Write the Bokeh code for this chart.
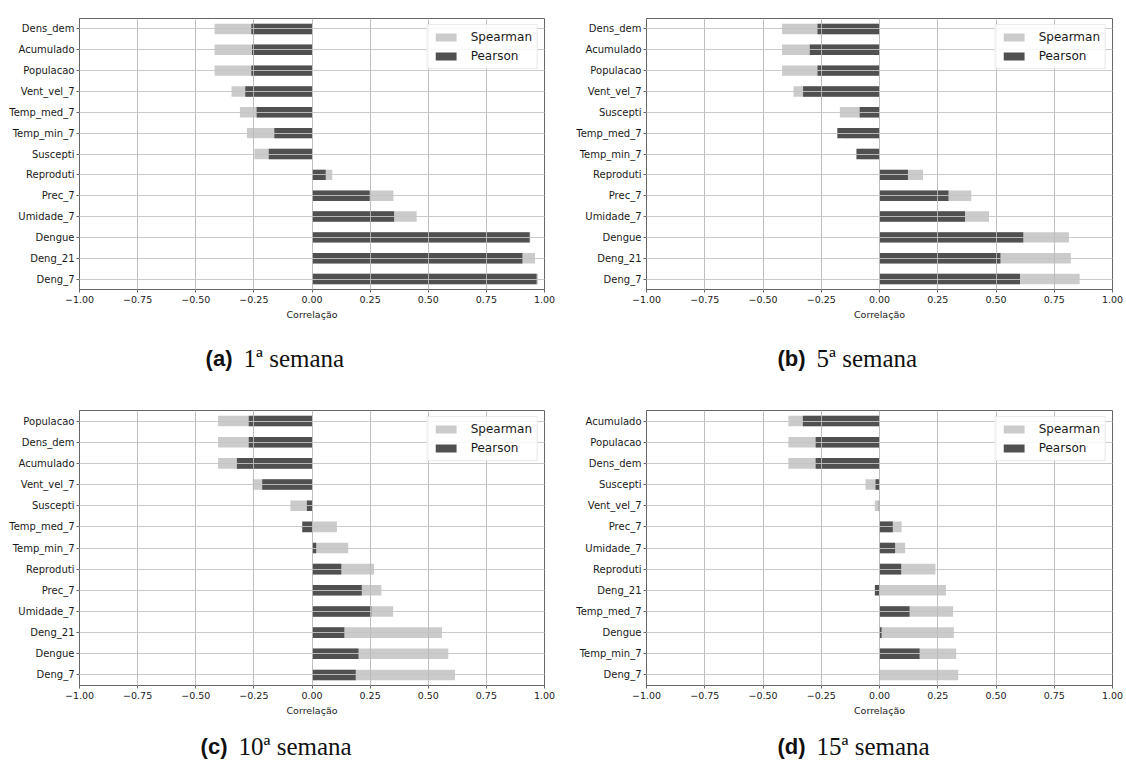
from bokeh.plotting import figure
from bokeh.layouts import column, row
from bokeh.models import FactorRange, Range1d, FixedTicker, ColumnDataSource
from bokeh.core.properties import value
from bokeh.embed import file_html
from bokeh.resources import INLINE

# ---------------- data (top-to-bottom order as shown) ----------------
cats_a = ["Dens_dem", "Acumulado", "Populacao", "Vent_vel_7", "Temp_med_7", "Temp_min_7",
          "Suscepti", "Reproduti", "Prec_7", "Umidade_7", "Dengue", "Deng_21", "Deng_7"]
spear_a = [-0.419, -0.419, -0.419, -0.346, -0.310, -0.280, -0.248, 0.087, 0.350, 0.450, 0.939, 0.959, 0.972]
pear_a = [-0.261, -0.258, -0.261, -0.287, -0.238, -0.162, -0.186, 0.059, 0.248, 0.353, 0.936, 0.905, 0.966]

cats_b = ["Dens_dem", "Acumulado", "Populacao", "Vent_vel_7", "Suscepti", "Temp_med_7",
          "Temp_min_7", "Reproduti", "Prec_7", "Umidade_7", "Dengue", "Deng_21", "Deng_7"]
spear_b = [-0.418, -0.418, -0.418, -0.369, -0.170, -0.160, -0.080, 0.187, 0.394, 0.470, 0.813, 0.821, 0.859]
pear_b = [-0.266, -0.299, -0.266, -0.328, -0.085, -0.181, -0.099, 0.122, 0.296, 0.367, 0.617, 0.519, 0.603]

cats_c = ["Populacao", "Dens_dem", "Acumulado", "Vent_vel_7", "Suscepti", "Temp_med_7",
          "Temp_min_7", "Reproduti", "Prec_7", "Umidade_7", "Deng_21", "Dengue", "Deng_7"]
spear_c = [-0.404, -0.404, -0.404, -0.255, -0.093, 0.107, 0.156, 0.267, 0.298, 0.349, 0.559, 0.586, 0.615]
pear_c = [-0.272, -0.272, -0.323, -0.214, -0.022, -0.042, 0.018, 0.126, 0.214, 0.255, 0.139, 0.200, 0.188]

cats_d = ["Acumulado", "Populacao", "Dens_dem", "Suscepti", "Vent_vel_7", "Prec_7",
          "Umidade_7", "Reproduti", "Deng_21", "Temp_med_7", "Dengue", "Temp_min_7", "Deng_7"]
spear_d = [-0.391, -0.391, -0.391, -0.060, -0.020, 0.095, 0.110, 0.240, 0.285, 0.316, 0.319, 0.329, 0.338]
pear_d = [-0.329, -0.274, -0.274, -0.017, -0.003, 0.057, 0.067, 0.093, -0.020, 0.129, 0.009, 0.172, 0.002]

x_ticks = [-1.0, -0.75, -0.5, -0.25, 0.0, 0.25, 0.5, 0.75, 1.0]
series_names = ["Spearman", "Pearson"]
x_label = "Correlação"

caption_tags = ["(a)", "(b)", "(c)", "(d)"]
caption_texts = ["1ª semana", "5ª semana", "10ª semana", "15ª semana"]

SPEAR_COLOR = "#cbcbcb"
PEAR_COLOR = "#505050"
FONT = "DejaVu Sans"
W = 563


def make_panel(cats, spear, pear, height, left, right, top, bottom):
    factors = list(reversed(cats))
    p = figure(width=W, height=height, y_range=FactorRange(factors=factors),
               x_range=Range1d(-1, 1), output_backend="svg", toolbar_location=None,
               min_border_left=left, min_border_right=right, min_border_top=top,
               min_border_bottom=bottom)
    src = ColumnDataSource(dict(cat=cats, s=spear, p=pear))
    p.hbar(y="cat", left=0, right="s", height=0.5, source=src, fill_color=SPEAR_COLOR,
           line_color=None, legend_label=series_names[0])
    p.hbar(y="cat", left=0, right="p", height=0.5, source=src, fill_color=PEAR_COLOR,
           line_color=None, legend_label=series_names[1])

    p.xaxis.ticker = FixedTicker(ticks=x_ticks)
    p.xaxis.major_label_overrides = {t: f"{t:.2f}".replace("-", "\u2212") for t in x_ticks}
    p.xaxis.axis_label = x_label
    for ax in (p.xaxis, p.yaxis):
        ax.axis_label_text_font = FONT
        ax.axis_label_text_font_size = "9.5px"
        ax.axis_label_text_font_style = "normal"
        ax.axis_label_text_color = "#1a1a1a"
        ax.major_label_text_font = FONT
        ax.major_label_text_font_size = "9.5px"
        ax.major_label_text_color = "#1a1a1a"
        ax.axis_line_color = "#666666"
        ax.major_tick_line_color = "#666666"
        ax.major_tick_out = 3
        ax.major_tick_in = 0
        ax.minor_tick_line_color = None
    p.yaxis.major_label_text_font_size = "10px"
    p.xaxis.major_label_standoff = 3
    p.xaxis.axis_label_standoff = 3
    p.yaxis.major_label_standoff = 2

    p.outline_line_color = "#666666"
    p.outline_line_width = 1
    for g in (p.xgrid, p.ygrid):
        g.grid_line_color = "#b8b8b8"
        g.grid_line_width = 0.9
        g.level = "overlay"
    p.ygrid.grid_line_color = "#c4c4c4"

    lg = p.legend[0]
    lg.location = "top_right"
    lg.margin = 6
    lg.padding = 5
    lg.spacing = 5
    lg.label_text_font = FONT
    lg.label_text_font_size = "12px"
    lg.label_text_color = "#1a1a1a"
    lg.glyph_width = 26
    lg.glyph_height = 10
    lg.label_standoff = 12
    lg.border_line_color = "#d6d6d6"
    lg.background_fill_alpha = 0.85
    return p


def make_caption(height, cy, tag_right_x, text_left_x, tags, texts):
    c = figure(width=W, height=height, x_range=Range1d(0, W), y_range=Range1d(0, height),
               output_backend="svg", toolbar_location=None, x_axis_type=None, y_axis_type=None,
               min_border=0, min_border_left=0, min_border_right=0, min_border_top=0,
               min_border_bottom=0)
    c.outline_line_color = None
    c.grid.visible = False
    c.text(x=[tag_right_x], y=[cy], text=tags, text_font=value("Liberation Sans"),
           text_font_style="bold", text_font_size="22px", text_align="right",
           text_baseline="middle", text_color="#111111")
    c.text(x=[text_left_x], y=[cy], text=texts, text_font=value("Liberation Serif"),
           text_font_size="25px", text_align="left", text_baseline="middle",
           text_color="#111111")
    return c


pa = make_panel(cats_a, spear_a, pear_a, 335, 79, 19, 12, 46)
pb = make_panel(cats_b, spear_b, pear_b, 335, 83, 14, 18, 39)
pc = make_panel(cats_c, spear_c, pear_c, 335, 79, 19, 22, 35)
pd = make_panel(cats_d, spear_d, pear_d, 335, 83, 14, 25, 33)

ca = make_caption(50, 27, 232, 243, caption_tags[0:1], caption_texts[0:1])
cb = make_caption(50, 27, 242, 253, caption_tags[1:2], caption_texts[1:2])
cc = make_caption(45, 19, 227, 238, caption_tags[2:3], caption_texts[2:3])
cd = make_caption(45, 19, 242, 253, caption_tags[3:4], caption_texts[3:4])

layout = column(row(pa, pb, spacing=0), row(ca, cb, spacing=0),
                row(pc, pd, spacing=0), row(cc, cd, spacing=0), spacing=0)
open("out.html", "w").write(file_html(layout, INLINE))
